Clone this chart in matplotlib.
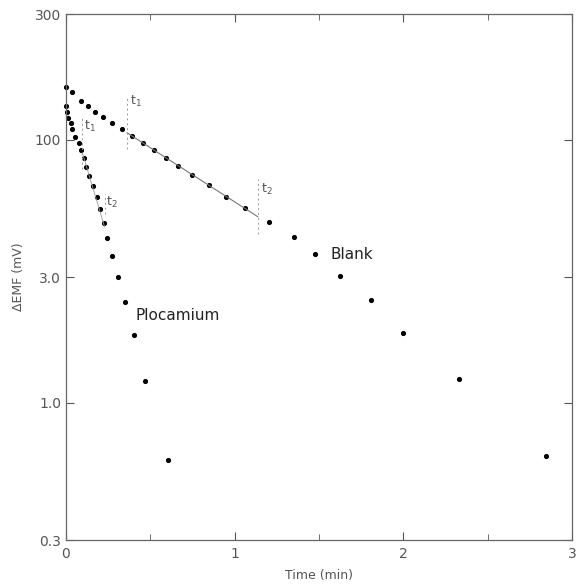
import numpy as np
import matplotlib
matplotlib.use("Agg")
import matplotlib.pyplot as plt

# Blank electrode response (time in min, dEMF in mV)
blank_t = [0.0, 0.038, 0.088, 0.130, 0.171, 0.219, 0.274, 0.332, 0.392, 0.458,
           0.521, 0.591, 0.663, 0.748, 0.850, 0.949, 1.059, 1.206, 1.349, 1.479,
           1.624, 1.809, 1.996, 2.333, 2.846]
blank_v = [159, 152, 140, 133.5, 127.3, 121.5, 115.6, 109.4, 103.1, 97.3,
           91.2, 85.3, 79.3, 73.3, 67.0, 60.6, 55.0, 48.7, 42.5, 36.6,
           30.4, 24.5, 18.4, 12.3, 6.25]

# Plocamium response
ploc_t = [0.0, 0.004, 0.014, 0.028, 0.038, 0.056, 0.079, 0.090, 0.106, 0.119,
          0.139, 0.159, 0.181, 0.201, 0.223, 0.241, 0.270, 0.309, 0.352, 0.404,
          0.470, 0.607]
ploc_v = [134, 127, 121.2, 115.3, 109.4, 102.3, 97.0, 91.0, 85.3, 78.9,
          72.6, 66.4, 60.4, 54.6, 48.0, 42.2, 36.1, 30.1, 24.1, 18.1,
          12.1, 6.05]

# t1 / t2 markers (min)
blank_t1, blank_t2 = 0.362, 1.137
ploc_t1, ploc_t2 = 0.097, 0.229

ytick_vals = [3, 10, 30, 100, 300]
ytick_labels = ["0.3", "1.0", "3.0", "100", "300"]
xtick_vals = [0, 1, 2, 3]

gray = "#555555"

fig = plt.figure(figsize=(5.82, 5.84), dpi=100)
ax = fig.add_axes([0.1134, 0.0753, 0.8694, 0.9007])

ax.plot(blank_t, blank_v, "o", color="black", markersize=2.7, clip_on=False)
ax.plot(ploc_t, ploc_v, "o", color="black", markersize=2.7, clip_on=False)


def fit_segment(ts, vs, t1, t2):
    ts = np.array(ts)
    vs = np.array(vs)
    m = (ts >= t1 - 0.02) & (ts <= t2 + 0.02)
    p = np.polyfit(ts[m], np.log10(vs[m]), 1)
    xs = np.array([t1, t2])
    return xs, 10 ** np.polyval(p, xs)


xs, ys = fit_segment(blank_t, blank_v, blank_t1, blank_t2)
ax.plot(xs, ys, color="#777777", lw=0.8)
xs, ys = fit_segment(ploc_t, ploc_v, ploc_t1, ploc_t2)
ax.plot(xs, ys, color="#999999", lw=0.6)

# vertical t markers
ax.plot([blank_t1, blank_t1], [92, 146], color="#999999", lw=0.7, ls=(0, (2, 3)))
ax.plot([blank_t2, blank_t2], [43.6, 70.5], color="#999999", lw=0.7, ls=(0, (2, 3)))
ax.plot([ploc_t1, ploc_t1], [77, 121.6], color="#999999", lw=0.7, ls=(0, (2, 3)))
ax.plot([ploc_t2, ploc_t2], [51.9, 61.8], color="#999999", lw=0.7, ls=(0, (2, 3)))

ax.text(blank_t1 + 0.02, 139, r"$\mathrm{t}_1$", fontsize=9, color=gray, va="center")
ax.text(blank_t2 + 0.02, 64.6, r"$\mathrm{t}_2$", fontsize=9, color=gray, va="center")
ax.text(ploc_t1 + 0.01, 112, r"$\mathrm{t}_1$", fontsize=9, color=gray, va="center")
ax.text(ploc_t2 + 0.01, 57.7, r"$\mathrm{t}_2$", fontsize=9, color=gray, va="center")

ax.text(1.57, 36.5, "Blank", fontsize=11, color="#222222", va="center")
ax.text(0.41, 21.4, "Plocamium", fontsize=11, color="#222222", va="center")

ax.set_yscale("log")
ax.set_xlim(0, 3)
ax.set_ylim(3, 300)
ax.set_yticks(ytick_vals)
ax.set_yticklabels(ytick_labels)
ax.yaxis.set_minor_locator(matplotlib.ticker.NullLocator())
ax.set_xticks(xtick_vals)
ax.set_xticks(np.arange(0, 3.01, 0.5), minor=True)
ax.tick_params(axis="both", which="both", direction="in", top=True, right=True,
               color=gray, labelcolor=gray, labelsize=10)
ax.tick_params(which="major", length=6)
ax.tick_params(which="minor", length=4)
ax.tick_params(axis="x", pad=5)

for s in ax.spines.values():
    s.set_color("#666666")
    s.set_linewidth(0.9)

ax.set_xlabel("Time (min)", fontsize=9, color=gray, labelpad=6)
ax.set_ylabel("\u0394EMF (mV)", fontsize=9, color=gray, labelpad=7)

fig.savefig("out.png", dpi=100)
